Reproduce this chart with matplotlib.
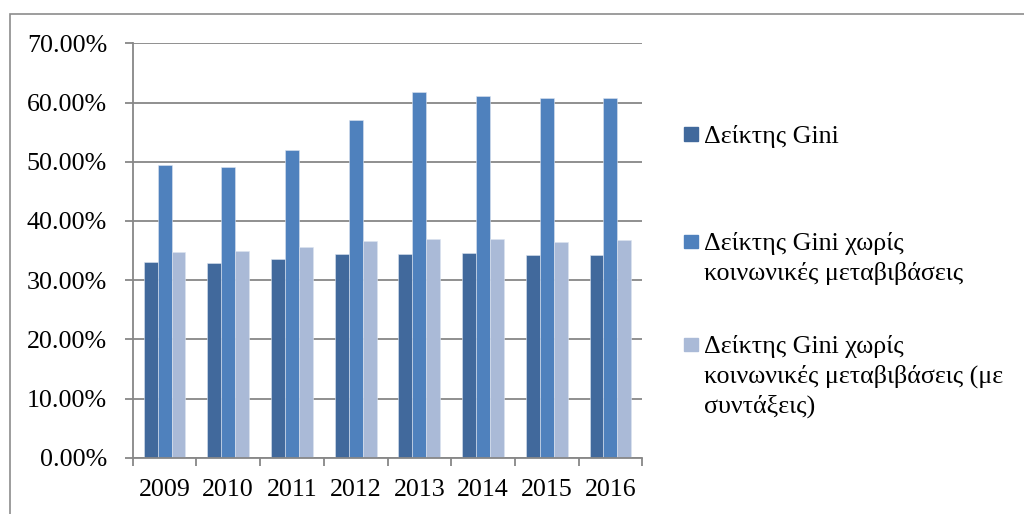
import numpy as np
import matplotlib
matplotlib.use('Agg')
import matplotlib.pyplot as plt
from matplotlib.patches import Rectangle
from matplotlib.ticker import PercentFormatter

years = ['2009', '2010', '2011', '2012', '2013', '2014', '2015', '2016']
gini = [33.1, 32.9, 33.5, 34.4, 34.4, 34.5, 34.2, 34.3]
gini_no_transfers = [49.5, 49.1, 51.9, 57.0, 61.7, 61.1, 60.7, 60.7]
gini_no_transfers_pensions = [34.8, 34.9, 35.6, 36.6, 37.0, 37.0, 36.5, 36.8]
series_labels = ['Δείκτης Gini',
                 'Δείκτης Gini χωρίς\nκοινωνικές μεταβιβάσεις',
                 'Δείκτης Gini χωρίς\nκοινωνικές μεταβιβάσεις (με\nσυντάξεις)']
colors = ['#41699C', '#4F81BD', '#AABAD7']

W, H = 1024, 514
FS = 18.7
GRID = '#878787'
plt.rcParams['font.family'] = ['Liberation Serif', 'DejaVu Serif']

fig = plt.figure(figsize=(W / 100, H / 100), dpi=100)
# outer chart border (runs off the right and bottom edges)
fig.add_artist(Rectangle((10 / W, -0.05), 1.1, 1 - 14 / H + 0.05, transform=fig.transFigure,
                         fill=False, edgecolor='#8C8C8C', linewidth=1.2))

ax = fig.add_axes([132.7 / W, 1 - 457.7 / H, (642.3 - 132.7) / W, (457.7 - 43.3) / H])

x = np.arange(len(years))
bw = 0.219
for i, vals in enumerate([gini, gini_no_transfers, gini_no_transfers_pensions]):
    ax.bar(x + (i - 1) * bw, vals, bw, color=colors[i], edgecolor='#DCE4F0', linewidth=0.4, zorder=3)

ax.set_xlim(-0.5, len(years) - 0.5)
ax.set_ylim(0, 70)
ax.set_yticks(np.arange(0, 71, 10))
ax.yaxis.set_major_formatter(PercentFormatter(decimals=2))
ax.grid(axis='y', color=GRID, linewidth=1.3, zorder=0)

ax.set_xticks(x)
ax.set_xticklabels(years)
ax.set_xticks(np.arange(-0.5, len(years)), minor=True)
ax.tick_params(axis='x', which='major', length=0, pad=15.5, labelsize=FS)
ax.tick_params(axis='x', which='minor', length=6, width=1.3, color=GRID, direction='out')
ax.tick_params(axis='y', length=6, width=1.3, color=GRID, pad=12.5, labelsize=FS)

for s in ['top', 'right']:
    ax.spines[s].set_visible(False)
for s in ['left', 'bottom']:
    ax.spines[s].set_color(GRID)
    ax.spines[s].set_linewidth(1.3)
    ax.spines[s].set_zorder(4)

# legend drawn by hand: entries are spread down the right side
first_baselines = [143, 250, 353]
line_gap = 30
for lab, col, y0 in zip(series_labels, colors, first_baselines):
    fig.add_artist(Rectangle((684 / W, 1 - (y0 - 2) / H), 13.5 / W, 13.5 / H,
                             transform=fig.transFigure, color=col))
    for k, line in enumerate(lab.split('\n')):
        fig.text(704 / W, 1 - (y0 + k * line_gap) / H, line, fontsize=FS,
                 va='baseline', ha='left')

fig.savefig('out.png', dpi=100)
